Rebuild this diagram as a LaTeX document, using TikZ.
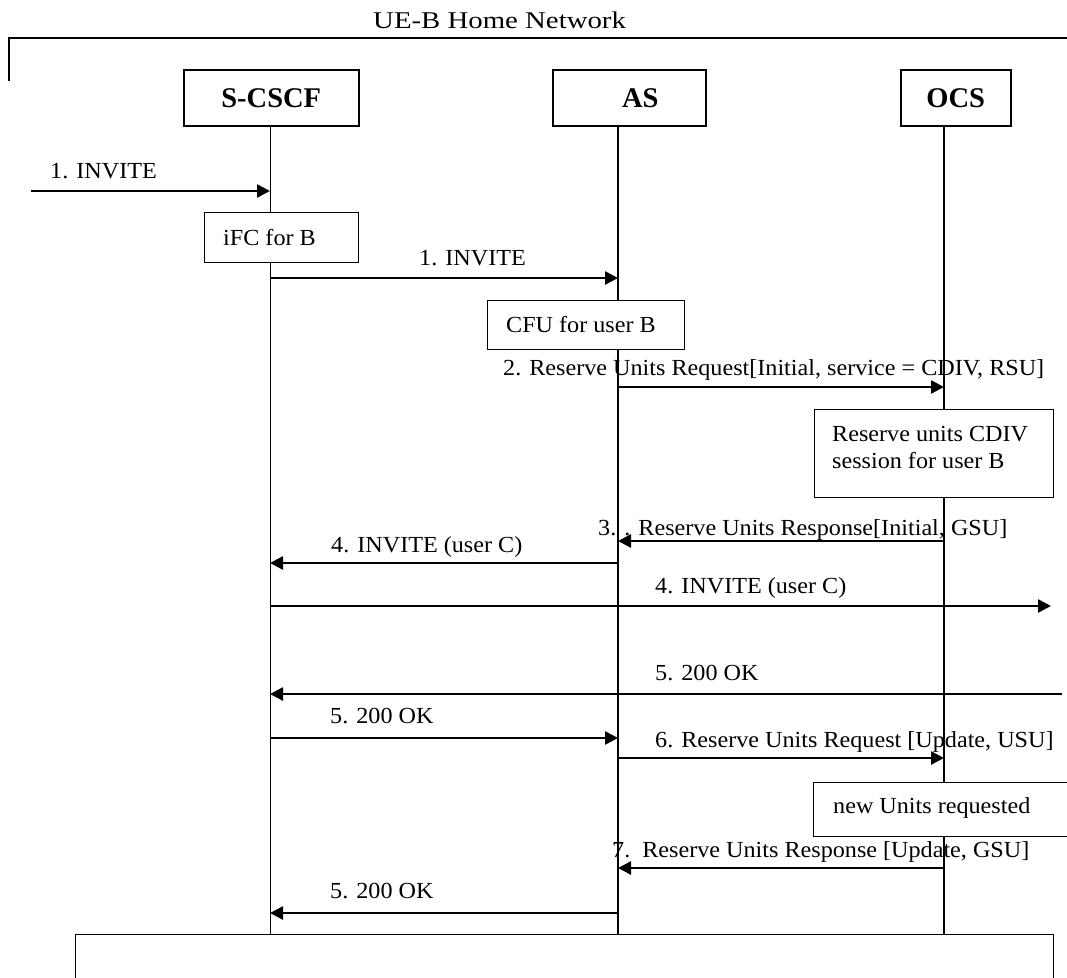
\documentclass[tikz,border=0pt]{standalone}
\usepackage{fontspec}
\setmainfont{Liberation Serif}[FakeStretch=1.05]
\newfontfamily\titlefont{Liberation Serif}[FakeStretch=1.2]
\newfontfamily\headfont{Liberation Serif}
\usetikzlibrary{arrows.meta}
\begin{document}
\begin{tikzpicture}[x=1pt,y=-1pt,
  every node/.style={inner sep=0pt},
  lbl/.style={anchor=base west, font=\fontsize{23}{27}\selectfont},
  ttl/.style={anchor=base west, font=\titlefont\fontsize{24}{28}\selectfont},
  head/.style={draw, fill=white, line width=1.5pt, anchor=north west, minimum height=56pt,
    font=\headfont\bfseries\fontsize{28.5}{30}\selectfont},
  note/.style={draw, fill=white, line width=1.4pt, anchor=north west},
  life/.style={line width=1.3pt},
  msg/.style={line width=2.6pt, -{Triangle[length=13pt,width=13pt]}},
  frame/.style={line width=1.7pt}]
\clip (0,0) rectangle (1067,977);
\fill[white] (0,0) rectangle (1067,977);

% frame of the home network
\coordinate (fTL) at (9,37.7);
\coordinate (fTR) at (1070,37.7);
\coordinate (fBL) at (9,81);
\draw[frame] (fBL) -- (fTL) -- (fTR);
\node[ttl] (title) at (373,28) {UE-B Home Network};

% entities
\node[head, minimum width=175pt] (scscf) at (183,69) {S-CSCF\hspace{9pt}};
\node[head, minimum width=153pt] (as) at (552,69) {\hspace{22pt}AS};
\node[head, minimum width=110pt] (ocs) at (900,69) {OCS\hspace{13pt}};

% lifelines
\coordinate (S) at (270,125);
\coordinate (A) at (618,125);
\coordinate (O) at (944,125);
\coordinate (Sb) at (270,934);
\coordinate (Ab) at (618,934);
\coordinate (Ob) at (944,934);
\draw[line width=1pt] (S) -- (Sb);
\draw[life] (A) -- (Ab);
\draw[life] (O) -- (Ob);

% note boxes
\node[note, minimum width=154pt, minimum height=50pt] (ifc) at (204,212) {};
\node[lbl] (ifcT) at (223,245) {iFC for B};
\node[note, minimum width=197pt, minimum height=49pt] (cfu) at (487,300) {};
\node[lbl] (cfuT) at (506,332) {CFU for user B};
\node[note, minimum width=239pt, minimum height=88pt] (cdiv) at (814,409) {};
\node[lbl] (cdivT1) at (832,441) {Reserve units CDIV};
\node[lbl] (cdivT2) at (832,468) {session for user B};
\node[note, minimum width=280pt, minimum height=54pt] (nu) at (813,782) {};
\node[lbl] (nuT) at (833,813) {new Units requested};
\node[note, minimum width=978pt, minimum height=80pt] (bottom) at (75,934) {};

% messages
\coordinate (in1) at (31,191);
\coordinate (extOut) at (1051,606);
\coordinate (extIn) at (1062,694);

\node[lbl] (l1) at (50,178) {1. INVITE};
\draw[msg] (in1) -- (S |- in1);

\node[lbl] (l2) at (419,265) {1. INVITE};
\draw[msg] (S |- 0,278) -- (A |- 0,278);

\node[lbl] (l3) at (503,375) {2. Reserve Units Request[Initial, service = CDIV, RSU]};
\draw[msg] (A |- 0,387) -- (O |- 0,387);

\node[lbl] (l4) at (598,535) {3. . Reserve Units Response[Initial, GSU]};
\draw[msg] (O |- 0,541) -- (A |- 0,541);

\node[lbl] (l5) at (331,552) {4. INVITE (user C)};
\draw[msg] (A |- 0,563) -- (S |- 0,563);

\node[lbl] (l6) at (655,593) {4. INVITE (user C)};
\draw[msg] (S |- extOut) -- (extOut);

\node[lbl] (l7) at (655,680) {5. 200 OK};
\draw[msg] (extIn) -- (S |- extIn);

\node[lbl] (l8) at (330,723) {5. 200 OK};
\draw[msg] (S |- 0,738) -- (A |- 0,738);

\node[lbl] (l9) at (655,747) {6. Reserve Units Request [Update, USU]};
\draw[msg] (A |- 0,758) -- (O |- 0,758);

\node[lbl] (l10) at (612,857) {7.\ \ Reserve Units Response [Update, GSU]};
\draw[msg] (O |- 0,868) -- (A |- 0,868);

\node[lbl] (l11) at (330,898) {5. 200 OK};
\draw[msg] (A |- 0,913) -- (S |- 0,913);
\end{tikzpicture}
\end{document}
